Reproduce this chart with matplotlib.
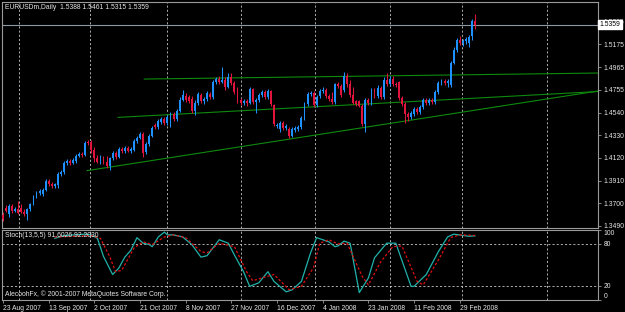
import numpy as np
import matplotlib.pyplot as plt
from matplotlib.transforms import blended_transform_factory

# daily EURUSDm bars, one per trading day
opens = [1.3590, 1.3655, 1.3599, 1.3673, 1.3627, 1.3645, 1.3655, 1.3617, 1.3599, 1.3645,
         1.3692, 1.3757, 1.3794, 1.3785, 1.3822, 1.3906, 1.3878, 1.3859, 1.3869, 1.3971,
         1.3989, 1.4073, 1.4091, 1.4073, 1.4091, 1.4138, 1.4156, 1.4147, 1.4268, 1.4268,
         1.4194, 1.4119, 1.4082, 1.4119, 1.4082, 1.4045, 1.4119, 1.4166, 1.4128, 1.4203,
         1.4184, 1.4212, 1.4184, 1.4194, 1.4277, 1.4305, 1.4342, 1.4175, 1.4249, 1.4324,
         1.4426, 1.4407, 1.4454, 1.4482, 1.4444, 1.4454, 1.4528, 1.4482, 1.4556, 1.4658,
         1.4695, 1.4686, 1.4667, 1.4556, 1.4630, 1.4704, 1.4649, 1.4667, 1.4714, 1.4686,
         1.4825, 1.4853, 1.4825, 1.4844, 1.4779, 1.4872, 1.4816, 1.4751, 1.4658, 1.4630,
         1.4649, 1.4630, 1.4760, 1.4639, 1.4658, 1.4704, 1.4732, 1.4686, 1.4742, 1.4612,
         1.4416, 1.4389, 1.4444, 1.4398, 1.4389, 1.4324, 1.4379, 1.4389, 1.4407, 1.4491,
         1.4621, 1.4714, 1.4723, 1.4612, 1.4695, 1.4742, 1.4751, 1.4695, 1.4667, 1.4639,
         1.4807, 1.4788, 1.4751, 1.4881, 1.4807, 1.4704, 1.4649, 1.4649, 1.4602, 1.4435,
         1.4658, 1.4630, 1.4751, 1.4695, 1.4770, 1.4686, 1.4844, 1.4807, 1.4853, 1.4807,
         1.4825, 1.4677, 1.4621, 1.4528, 1.4500, 1.4528, 1.4574, 1.4547, 1.4593, 1.4658,
         1.4630, 1.4658, 1.4639, 1.4732, 1.4816, 1.4834, 1.4816, 1.4797, 1.5002, 1.5122,
         1.5215, 1.5187, 1.5206, 1.5187, 1.5253, 1.5388]
highs = [1.3617, 1.3683, 1.3692, 1.3692, 1.3664, 1.3720, 1.3692, 1.3645, 1.3655, 1.3701,
         1.3776, 1.3813, 1.3831, 1.3841, 1.3924, 1.3924, 1.3896, 1.3887, 1.3989, 1.4008,
         1.4091, 1.4110, 1.4110, 1.4119, 1.4156, 1.4175, 1.4175, 1.4277, 1.4286, 1.4286,
         1.4221, 1.4147, 1.4147, 1.4138, 1.4138, 1.4128, 1.4184, 1.4184, 1.4221, 1.4221,
         1.4231, 1.4231, 1.4221, 1.4296, 1.4324, 1.4361, 1.4361, 1.4268, 1.4342, 1.4416,
         1.4444, 1.4482, 1.4500, 1.4500, 1.4519, 1.4547, 1.4547, 1.4574, 1.4686, 1.4751,
         1.4723, 1.4704, 1.4695, 1.4658, 1.4732, 1.4723, 1.4686, 1.4742, 1.4732, 1.4844,
         1.4872, 1.4881, 1.4964, 1.4872, 1.4909, 1.4909, 1.4834, 1.4779, 1.4677, 1.4667,
         1.4667, 1.4779, 1.4770, 1.4677, 1.4723, 1.4751, 1.4751, 1.4760, 1.4751, 1.4621,
         1.4444, 1.4463, 1.4463, 1.4435, 1.4407, 1.4407, 1.4416, 1.4426, 1.4509, 1.4639,
         1.4732, 1.4742, 1.4742, 1.4704, 1.4760, 1.4779, 1.4770, 1.4714, 1.4732, 1.4816,
         1.4825, 1.4807, 1.4918, 1.4909, 1.4844, 1.4779, 1.4658, 1.4658, 1.4621, 1.4677,
         1.4677, 1.4770, 1.4770, 1.4797, 1.4788, 1.4872, 1.4909, 1.4881, 1.4881, 1.4825,
         1.4834, 1.4695, 1.4639, 1.4547, 1.4556, 1.4593, 1.4593, 1.4612, 1.4677, 1.4677,
         1.4677, 1.4677, 1.4751, 1.4834, 1.4853, 1.4853, 1.4853, 1.5021, 1.5150, 1.5234,
         1.5253, 1.5225, 1.5243, 1.5262, 1.5411, 1.5461]
lows = [1.3534, 1.3617, 1.3571, 1.3608, 1.3617, 1.3599, 1.3608, 1.3580, 1.3543, 1.3627,
        1.3683, 1.3748, 1.3776, 1.3766, 1.3813, 1.3859, 1.3841, 1.3841, 1.3841, 1.3952,
        1.3971, 1.4054, 1.4054, 1.4063, 1.4073, 1.4128, 1.4128, 1.4138, 1.4240, 1.4166,
        1.4082, 1.4073, 1.4063, 1.4063, 1.4026, 1.4008, 1.4101, 1.4110, 1.4119, 1.4166,
        1.4166, 1.4175, 1.4166, 1.4184, 1.4259, 1.4296, 1.4128, 1.4156, 1.4231, 1.4314,
        1.4389, 1.4389, 1.4435, 1.4426, 1.4426, 1.4407, 1.4463, 1.4463, 1.4547, 1.4649,
        1.4639, 1.4630, 1.4537, 1.4519, 1.4612, 1.4630, 1.4621, 1.4649, 1.4667, 1.4667,
        1.4807, 1.4807, 1.4816, 1.4751, 1.4770, 1.4797, 1.4714, 1.4630, 1.4612, 1.4612,
        1.4602, 1.4621, 1.4621, 1.4537, 1.4639, 1.4686, 1.4667, 1.4667, 1.4602, 1.4416,
        1.4398, 1.4361, 1.4379, 1.4379, 1.4305, 1.4314, 1.4361, 1.4370, 1.4389, 1.4472,
        1.4602, 1.4695, 1.4593, 1.4593, 1.4677, 1.4723, 1.4677, 1.4649, 1.4621, 1.4621,
        1.4770, 1.4686, 1.4732, 1.4779, 1.4686, 1.4621, 1.4602, 1.4593, 1.4416, 1.4361,
        1.4612, 1.4612, 1.4677, 1.4677, 1.4667, 1.4667, 1.4788, 1.4788, 1.4788, 1.4779,
        1.4658, 1.4602, 1.4444, 1.4463, 1.4482, 1.4509, 1.4528, 1.4528, 1.4574, 1.4612,
        1.4612, 1.4621, 1.4621, 1.4714, 1.4797, 1.4797, 1.4779, 1.4779, 1.4992, 1.5104,
        1.5169, 1.5160, 1.5178, 1.5150, 1.5215, 1.5315]
closes = [1.3552, 1.3627, 1.3673, 1.3627, 1.3645, 1.3608, 1.3617, 1.3599, 1.3645, 1.3692,
          1.3757, 1.3794, 1.3813, 1.3822, 1.3906, 1.3878, 1.3859, 1.3878, 1.3971, 1.3989,
          1.4073, 1.4091, 1.4073, 1.4101, 1.4138, 1.4156, 1.4147, 1.4259, 1.4259, 1.4194,
          1.4119, 1.4082, 1.4128, 1.4082, 1.4045, 1.4119, 1.4166, 1.4128, 1.4203, 1.4184,
          1.4212, 1.4184, 1.4203, 1.4277, 1.4305, 1.4342, 1.4166, 1.4249, 1.4324, 1.4398,
          1.4407, 1.4463, 1.4482, 1.4444, 1.4500, 1.4528, 1.4482, 1.4556, 1.4658, 1.4704,
          1.4658, 1.4649, 1.4556, 1.4630, 1.4714, 1.4649, 1.4667, 1.4723, 1.4686, 1.4825,
          1.4853, 1.4825, 1.4844, 1.4779, 1.4872, 1.4816, 1.4732, 1.4658, 1.4630, 1.4649,
          1.4630, 1.4760, 1.4639, 1.4658, 1.4704, 1.4732, 1.4686, 1.4742, 1.4621, 1.4435,
          1.4426, 1.4444, 1.4398, 1.4416, 1.4324, 1.4389, 1.4398, 1.4407, 1.4491, 1.4621,
          1.4714, 1.4723, 1.4612, 1.4686, 1.4742, 1.4751, 1.4695, 1.4667, 1.4639, 1.4807,
          1.4788, 1.4704, 1.4881, 1.4807, 1.4704, 1.4630, 1.4621, 1.4602, 1.4435, 1.4658,
          1.4630, 1.4751, 1.4695, 1.4770, 1.4686, 1.4844, 1.4807, 1.4853, 1.4807, 1.4797,
          1.4677, 1.4621, 1.4528, 1.4500, 1.4537, 1.4574, 1.4547, 1.4593, 1.4658, 1.4630,
          1.4658, 1.4639, 1.4732, 1.4816, 1.4834, 1.4816, 1.4834, 1.5002, 1.5122, 1.5215,
          1.5187, 1.5206, 1.5225, 1.5243, 1.5392, 1.5359]

# Stoch(13,5,5) lines (bar index, value)
main_bars = [17, 20, 24, 27, 29, 31, 33, 36, 38, 40, 42, 44, 46, 48, 49, 51, 53, 54, 56, 59,
             62, 65, 67, 71, 74, 76, 79, 81, 84, 87, 89, 93, 95, 98, 101, 103, 107, 109, 110,
             112, 114, 117, 120, 122, 126, 129, 134, 135, 139, 143, 146, 148, 153, 155]
stoch_main = [88, 92, 93, 94, 93, 88, 62, 36, 45, 61, 71, 89, 81, 79, 76, 90, 97, 93, 93, 90,
              79, 61, 63, 86, 81, 64, 40, 19, 24, 40, 26, 11, 14, 26, 67, 89, 83, 76, 77,
              84, 81, 10, 31, 60, 81, 81, 19, 19, 36, 69, 90, 94, 91, 91.6026]
signal_bars = [17, 24, 29, 32, 35, 37, 39, 43, 46, 49, 53, 56, 60, 65, 67, 71, 76, 80, 82, 85,
               89, 94, 98, 102, 104, 107, 110, 113, 118, 120, 124, 128, 131, 136, 138, 143,
               147, 150, 155]
stoch_signal = [90, 91, 92, 88, 62, 40, 42, 74, 83, 79, 90, 93, 89, 69, 67, 81, 76, 40, 27, 31,
                36, 14, 19, 46, 81, 86, 80, 81, 33, 21, 54, 76, 77, 26, 21, 57, 89, 93, 92.2030]

date_labels = ['23 Aug 2007', '13 Sep 2007', '2 Oct 2007', '21 Oct 2007', '8 Nov 2007',
               '27 Nov 2007', '16 Dec 2007', '4 Jan 2008', '23 Jan 2008', '11 Feb 2008',
               '29 Feb 2008']
label_bars = [0, 15, 30, 45, 60, 75, 90, 105, 120, 135, 150]
grid_bars = [5.3, 28.6, 53.9, 78.3, 102.6, 127.0, 150.7, 178.6]
price_ticks = [1.5385, 1.5175, 1.4965, 1.4755, 1.4540, 1.4330, 1.4120, 1.3910, 1.3700, 1.3490]
stoch_ticks = [100, 80, 20, 0]

# trend lines: anchor bar indexes and prices
upper_bars, upper_prices = [46.4, 195.4], [1.4853, 1.4909]
mid_bars, mid_prices = [37.8, 195.4], [1.4497, 1.4737]
low_bars, low_prices = [27.6, 195.4], [1.4002, 1.4742]

plt.rcParams['font.family'] = ['Liberation Sans', 'DejaVu Sans']
txt = '#E6E6E6'
frame = '#9A9A9A'
grid_col = '#C8C8C8'
fs = 4.9

fig = plt.figure(figsize=(6.25, 3.12), dpi=100, facecolor='black')
ax = fig.add_axes([2/625, 1 - 228/312, 596/625, 226/312], facecolor='black')
ax2 = fig.add_axes([2/625, 1 - 299.5/312, 596/625, 69.5/312], facecolor='black')

o = np.array(opens)
c = np.array(closes)
x = np.arange(len(c))
cols = np.where(c >= o, '#1E90FF', '#E0143C')
ax.vlines(x, lows, highs, colors=cols, lw=0.75, zorder=3)
ax.bar(x, np.maximum(np.abs(c - o), 0.0003), bottom=np.minimum(o, c), width=0.62,
       color=cols, linewidth=0, zorder=3)

for b, p in [(upper_bars, upper_prices), (mid_bars, mid_prices), (low_bars, low_prices)]:
    ax.plot(b, p, color='#0E8A0E', lw=0.8, zorder=2)

ax.axhline(closes[-1], color='#8C98A4', lw=0.8, zorder=1)
for g in grid_bars:
    ax.axvline(g, color=grid_col, lw=0.6, ls=(0, (2.5, 2.5)), zorder=0)
    ax2.axvline(g, color=grid_col, lw=0.6, ls=(0, (2.5, 2.5)), zorder=0)

ax.set_xlim(-0.33, 195.4)
ax.set_ylim(1.3469, 1.5569)
ax.set_xticks([])
ax.yaxis.tick_right()
ax.set_yticks(price_ticks)
ax.set_yticklabels(['%.4f' % p for p in price_ticks])
ax.tick_params(axis='y', length=2.5, width=0.6, color=frame, pad=1.5, labelsize=fs,
               labelcolor=txt)

tr = blended_transform_factory(ax.transAxes, ax.transData)
ax.text(1.003, closes[-1], '%.4f' % closes[-1], transform=tr, ha='left', va='center',
        fontsize=fs, color='black', zorder=10, clip_on=False,
        bbox=dict(boxstyle='square,pad=0.2', fc='white', ec='white'))
ax.text(0.005, 0.975, 'EURUSDm,Daily  %.4f %.4f %.4f %.4f'
        % (opens[-1], highs[-1], lows[-1], closes[-1]),
        transform=ax.transAxes, ha='left', va='center', fontsize=fs, color=txt)

# stochastic pane
ax2.plot(main_bars, stoch_main, color='#20B2AA', lw=0.9, zorder=3)
ax2.plot(signal_bars, stoch_signal, color='#E01010', lw=0.9, ls=(0, (2, 1.6)), zorder=3)
for lev in [80, 20]:
    ax2.axhline(lev, color=grid_col, lw=0.6, ls=(0, (2.5, 2.5)), zorder=0)
ax2.set_xlim(-0.33, 195.4)
ax2.set_ylim(0, 100)
ax2.yaxis.tick_right()
ax2.set_yticks(stoch_ticks)
ax2.set_yticklabels([str(t) for t in stoch_ticks])
ax2.get_yticklabels()[0].set_va('top')
ax2.get_yticklabels()[-1].set_va('bottom')
ax2.tick_params(axis='y', length=2.5, width=0.6, color=frame, pad=1.5, labelsize=fs,
                labelcolor=txt)
ax2.set_xticks(label_bars)
ax2.set_xticklabels(date_labels)
for lbl in ax2.get_xticklabels():
    lbl.set_ha('left')
ax2.tick_params(axis='x', length=2.5, width=0.6, color=frame, pad=1.5, labelsize=fs,
                labelcolor=txt)
ax2.text(0.005, 0.92, 'Stoch(13,5,5) %.4f %.4f' % (stoch_main[-1], stoch_signal[-1]),
         transform=ax2.transAxes, ha='left', va='center', fontsize=fs, color=txt, zorder=5)
ax2.text(0.005, 0.08, 'AlecoohFx, \u00a9 2001-2007 MetaQuotes Software Corp.',
         transform=ax2.transAxes, ha='left', va='center', fontsize=fs, color=txt, zorder=5)

for a in (ax, ax2):
    for s in a.spines.values():
        s.set_color(frame)
        s.set_linewidth(0.8)

fig.savefig('out.png', dpi=100, facecolor='black')
